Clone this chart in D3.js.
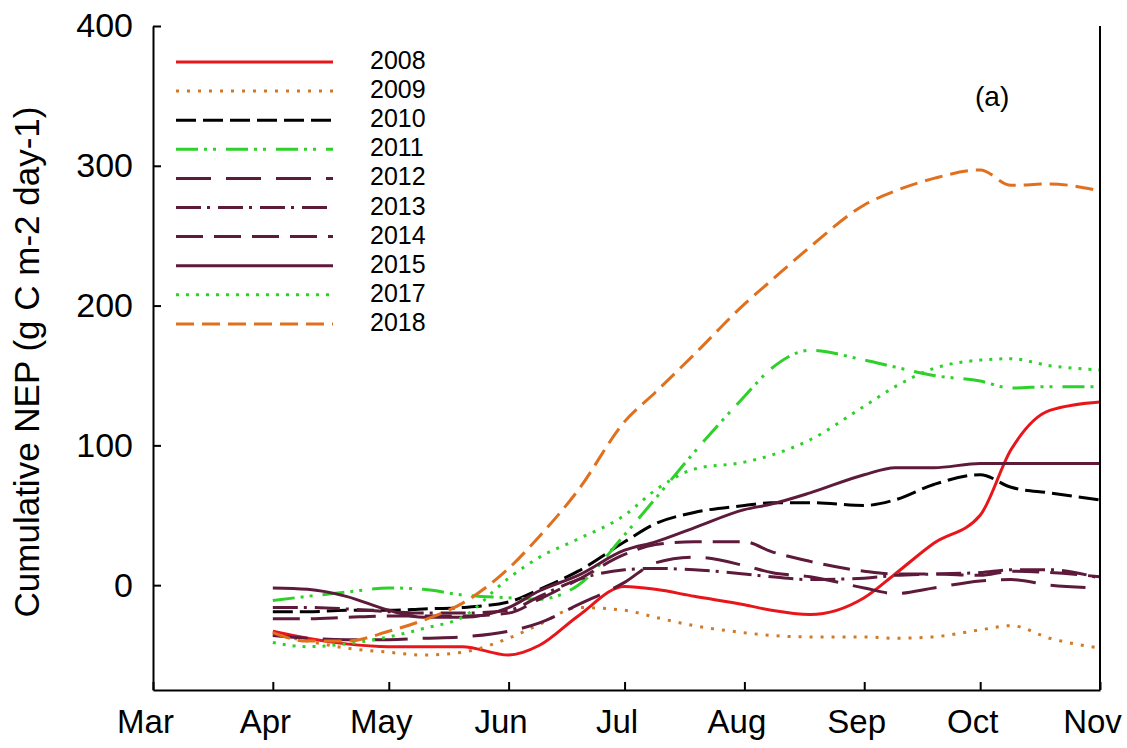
<!DOCTYPE html>
<html>
<head>
<meta charset="utf-8">
<script src="https://cdn.jsdelivr.net/npm/d3@7"></script>
<style>
  html, body { margin: 0; padding: 0; background: #ffffff; }
  svg { display: block; font-family: Arial, "Liberation Sans", sans-serif; }
</style>
</head>
<body>
<svg id="chart" width="1127" height="748"></svg>
<script>
// Day of year for each sample (Apr 1 .. Nov 1)
const days = [91, 100, 110, 121, 130, 140, 152, 160, 170, 182, 190, 200, 213, 220, 230, 244, 252, 262, 274, 282, 292, 305];

// Cumulative NEP per year (g C m-2), one value per sample day
const nep2008 = [-33, -38, -42, -44, -44, -44, -50, -43, -22, -1, -3, -8, -14, -18, -21, -9, 8, 30, 50, 97, 125, 131];
const nep2009 = [-35, -40, -45, -48, -50, -48, -38, -28, -16, -18, -23, -29, -34, -36, -37, -37, -38, -37, -32, -29, -38, -45];
const nep2010 = [-19, -19, -18, -18, -17, -16, -12, -3, 10, 31, 44, 52, 57, 59, 59, 57, 61, 72, 79, 70, 66, 61];
const nep2011 = [-11, -8, -5, -2, -3, -7, -9, -10, 0, 36, 62, 95, 135, 155, 168, 161, 156, 150, 146, 141, 142, 142];
const nep2012 = [-36, -38, -39, -39, -38, -37, -33, -27, -14, 2, 16, 20, 14, 9, 6, -2, -6, -2, 3, 4, 0, -2];
const nep2013 = [-16, -16, -17, -19, -20, -20, -18, -8, 4, 11, 12, 11, 8, 6, 4, 5, 7, 8, 9, 11, 11, 5];
const nep2014 = [-24, -24, -23, -22, -22, -22, -20, -10, 4, 22, 29, 31, 31, 24, 17, 10, 8, 8, 7, 10, 9, 6];
const nep2015 = [-2, -3, -8, -18, -23, -23, -16, -4, 7, 25, 31, 41, 54, 58, 66, 79, 84, 84, 87, 87, 87, 87];
const nep2017 = [-41, -44, -42, -37, -31, -23, 5, 20, 33, 50, 68, 83, 88, 93, 104, 128, 142, 155, 161, 162, 157, 154];
const nep2018 = [-34, -40, -40, -33, -25, -13, 12, 35, 68, 117, 138, 165, 201, 218, 242, 272, 282, 291, 297, 286, 287, 282];

const years = ["2008", "2009", "2010", "2011", "2012", "2013", "2014", "2015", "2017", "2018"];
const yearValues = [nep2008, nep2009, nep2010, nep2011, nep2012, nep2013, nep2014, nep2015, nep2017, nep2018];

// Month ticks (first day of each month, day of year)
const monthDays = [60, 91, 121, 152, 182, 213, 244, 274, 305];
const monthLabels = ["Mar", "Apr", "May", "Jun", "Jul", "Aug", "Sep", "Oct", "Nov"];
const yTicks = [0, 100, 200, 300, 400];

// Line appearance per year
const maroon = "#5e1a3a";
const styles = {
  "2008": { color: "#e8161b", dash: null },
  "2009": { color: "#d07a26", dash: "3,8" },
  "2010": { color: "#000000", dash: "20,7" },
  "2011": { color: "#2ed12a", dash: "22,6,3,6,3,10" },
  "2012": { color: maroon, dash: "35,15" },
  "2013": { color: maroon, dash: "25,6,3,8" },
  "2014": { color: maroon, dash: "27,11" },
  "2015": { color: maroon, dash: null },
  "2017": { color: "#2ed12a", dash: "3,7" },
  "2018": { color: "#e0701e", dash: "18,8" }
};

const svg = d3.select("#chart");
const plotLeft = 153, plotRight = 1100, plotTop = 26, plotBottom = 690;

const x = d3.scaleLinear().domain([60, 305]).range([plotLeft, plotRight]);
const y = d3.scaleLinear().domain([-75, 400]).range([plotBottom, plotTop]);

// Series
const line = d3.line()
  .x((d, i) => x(days[i]))
  .y(d => y(d))
  .curve(d3.curveMonotoneX);

const plot = svg.append("g");
years.forEach((yr, k) => {
  const s = styles[yr];
  plot.append("path")
    .datum(yearValues[k])
    .attr("d", line)
    .attr("fill", "none")
    .attr("stroke", s.color)
    .attr("stroke-width", 3)
    .attr("stroke-dasharray", s.dash)
    .attr("stroke-linejoin", "round");
});

// Axes with inward ticks
const xAxis = d3.axisBottom(x)
  .tickValues(monthDays)
  .tickFormat((d, i) => monthLabels[i])
  .tickSizeInner(-8)
  .tickSizeOuter(0)
  .tickPadding(20);
const gx = svg.append("g").attr("transform", `translate(0,${plotBottom})`).call(xAxis);
gx.select(".domain").attr("stroke-width", 2);
gx.selectAll(".tick line").attr("stroke-width", 2);
gx.selectAll(".tick text").attr("font-size", 33).attr("fill", "#000")
  .attr("dx", -8)
  .attr("font-family", "Arial, 'Liberation Sans', sans-serif");

const yAxis = d3.axisLeft(y)
  .tickValues(yTicks)
  .tickSizeInner(-8)
  .tickSizeOuter(0)
  .tickPadding(20);
const gy = svg.append("g").attr("transform", `translate(${plotLeft},0)`).call(yAxis);
gy.select(".domain").attr("stroke-width", 2);
gy.selectAll(".tick line").attr("stroke-width", 2);
gy.selectAll(".tick text").attr("font-size", 34).attr("fill", "#000")
  .attr("font-family", "Arial, 'Liberation Sans', sans-serif");

// Right frame line
svg.append("line")
  .attr("x1", plotRight).attr("x2", plotRight)
  .attr("y1", plotTop).attr("y2", plotBottom)
  .attr("stroke", "#000").attr("stroke-width", 2);

// Y axis title
svg.append("text")
  .attr("transform", "translate(39,362) rotate(-90)")
  .attr("text-anchor", "middle")
  .attr("font-size", 35)
  .attr("fill", "#000")
  .text("Cumulative NEP (g C m-2 day-1)");

// Panel label
svg.append("text")
  .attr("x", 975).attr("y", 106)
  .attr("font-size", 28)
  .attr("fill", "#000")
  .text("(a)");

// Legend
const legend = svg.append("g");
years.forEach((yr, i) => {
  const s = styles[yr];
  const ly = 62 + i * 29.1;
  legend.append("line")
    .attr("x1", 176).attr("x2", 333)
    .attr("y1", ly).attr("y2", ly)
    .attr("stroke", s.color)
    .attr("stroke-width", 3)
    .attr("stroke-dasharray", s.dash);
  legend.append("text")
    .attr("x", 370).attr("y", ly + 7)
    .attr("font-size", 25)
    .attr("fill", "#000")
    .text(yr);
});
</script>
</body>
</html>
